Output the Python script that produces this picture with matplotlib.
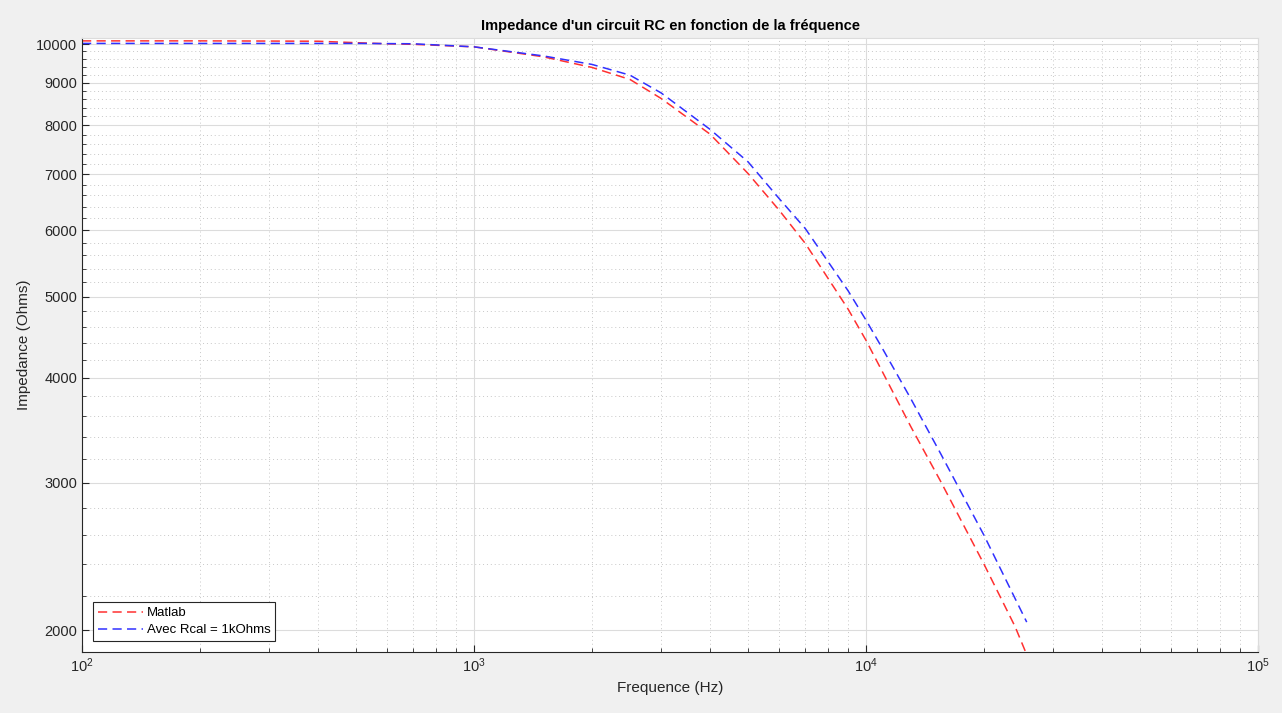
import matplotlib.pyplot as plt
from matplotlib.ticker import FixedLocator, NullFormatter, LogLocator, LogFormatterMathtext

plt.rcParams['font.family'] = ['Liberation Sans', 'DejaVu Sans']

# Frequencies (Hz)
freq = [100, 200, 300, 400, 500, 600, 700, 1000, 1500, 2000, 2500, 3000,
        4000, 5000, 6000, 7000, 9000, 10000, 11000, 13000, 15500, 20000,
        24000, 25700]

# Impedance (Ohms), Matlab model
z_matlab = [10090, 10090, 10085, 10080, 10040, 10010, 9995, 9926, 9660, 9380,
            9075, 8615, 7810, 7010, 6340, 5785, 4830, 4433, 4070, 3500, 3010,
            2397, 2020, 1870]

# Impedance (Ohms), with Rcal = 1kOhms
z_rcal = [10020, 10020, 10020, 10020, 10020, 10015, 10010, 9926, 9683, 9458,
          9183, 8747, 7913, 7238, 6545, 6026, 5080, 4686, 4339, 3779, 3248,
          2595, 2182, 2045]

y_major = [2000, 3000, 4000, 5000, 6000, 7000, 8000, 9000, 10000]
y_minor = [v for v in range(2000, 10200, 200) if v not in y_major]

fig = plt.figure(figsize=(12.82, 7.13), dpi=100, facecolor='#f0f0f0')
ax = fig.add_axes([0.064, 0.0856, 0.9173, 0.8611])

ax.loglog(freq, z_matlab, color='#ff3030', linestyle='--', dashes=(6, 3.5),
          linewidth=1.1, label='Matlab')
ax.loglog(freq, z_rcal, color='#3030ff', linestyle='--', dashes=(6, 3.5),
          linewidth=1.1, label='Avec Rcal = 1kOhms')

ax.set_xlim(100, 1e5)
ax.set_ylim(1884, 10170)

ax.xaxis.set_major_locator(LogLocator(base=10, numticks=10))
ax.xaxis.set_major_formatter(LogFormatterMathtext())
ax.xaxis.set_minor_locator(LogLocator(base=10, subs=range(2, 10), numticks=20))
ax.xaxis.set_minor_formatter(NullFormatter())

ax.yaxis.set_major_locator(FixedLocator(y_major))
ax.set_yticklabels([str(v) for v in y_major])
ax.yaxis.set_minor_locator(FixedLocator(y_minor))
ax.yaxis.set_minor_formatter(NullFormatter())

ax.grid(True, which='major', color='#dcdcdc', linestyle='-', linewidth=0.8)
ax.grid(True, which='minor', color='#c8c8c8', linestyle=(0, (1, 3)), linewidth=0.7)
ax.set_axisbelow(True)

ax.tick_params(which='both', direction='in', colors='#262626', labelsize=10.5)
ax.tick_params(which='major', length=5, width=0.8)
ax.tick_params(which='minor', length=3, width=0.6)
for side in ['left', 'bottom']:
    ax.spines[side].set_color('#262626')
    ax.spines[side].set_linewidth(0.8)
for side in ['top', 'right']:
    ax.spines[side].set_color('#dcdcdc')
    ax.spines[side].set_linewidth(0.8)

ax.set_xlabel('Frequence (Hz)', fontsize=11, color='#262626')
ax.set_ylabel('Impedance (Ohms)', fontsize=11, color='#262626')
ax.set_title("Impedance d'un circuit RC en fonction de la fréquence",
             fontsize=10.5, fontweight='bold', pad=6)

leg = ax.legend(loc='lower left', fontsize=9.5, fancybox=False, framealpha=1,
                edgecolor='#262626', handlelength=3.4, borderaxespad=0.85,
                borderpad=0.35, labelspacing=0.35, handletextpad=0.3)
leg.get_frame().set_linewidth(0.8)

fig.savefig('out.png', dpi=100, facecolor=fig.get_facecolor())
